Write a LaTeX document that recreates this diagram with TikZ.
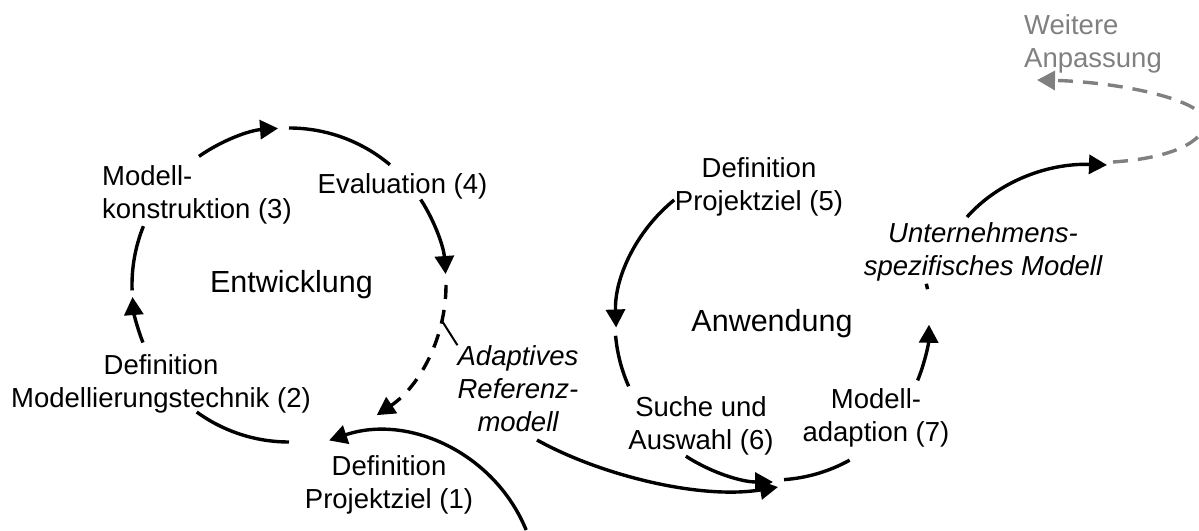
\documentclass[tikz,border=0pt]{standalone}
\usepackage{fontspec}
\setmainfont{Liberation Sans}
\usetikzlibrary{arrows.meta,calc}
\definecolor{loopgray}{RGB}{128,128,128}
\begin{document}
\begin{tikzpicture}[x=1pt,y=1pt,
  lbl/.style={font=\fontsize{27.5}{33}\selectfont, align=center, inner sep=0pt},
  ttl/.style={font=\fontsize{30.5}{36}\selectfont, inner sep=0pt},
  itlbl/.style={lbl, font=\fontsize{27.5}{33}\selectfont\itshape},
  flow/.style={line width=3.4pt, black},
  fine/.style={line width=2pt, black},
  tip/.style={-{Triangle[length=18pt,width=19pt]}},
  loop/.style={line width=3.4pt, loopgray, dash pattern=on 15pt off 10pt}]
\useasboundingbox (0,0) rectangle (1199,530);
\clip (0,0) rectangle (1199,530);

% labels
\node[lbl] (p1) at (389,45.5) {Definition\\Projektziel (1)};
\node[lbl] (p2) at (161,146.5) {Definition\\Modellierungstechnik (2)};
\node[lbl, align=left, anchor=west] (p3) at (102,335.5) {Modell-\\konstruktion (3)};
\node[lbl] (p4) at (402.5,344) {Evaluation (4)};
\node[ttl] (dev) at (291.5,245) {Entwicklung};
\node[itlbl] (ref) at (518,141.5) {Adaptives\\Referenz-\\modell};
\node[lbl] (p5) at (759,343.5) {Definition\\Projektziel (5)};
\node[ttl] (use) at (772,206) {Anwendung};
\node[lbl] (p6) at (701,104.5) {Suche und\\Auswahl (6)};
\node[lbl] (p7) at (876,112) {Modell-\\adaption (7)};
\node[itlbl] (ent) at (983,278.5) {Unternehmens-\\spezifisches Modell};
\node[lbl, text=loopgray, align=left, anchor=west] (more) at (1024,486.6) {Weitere\\Anpassung};

% cycle centres
\coordinate (LC) at (289,245);
\coordinate (RC) at (773,208);
\coordinate (BC) at (380,-60);

% development cycle
\path ($(LC)+(-90:157)$)   coordinate (l1)
      ($(LC)+(201.5:157)$) coordinate (l2)
      ($(LC)+(182:157)$)   coordinate (l3)
      ($(LC)+(125:157)$)   coordinate (l4)
      ($(LC)+(90:157)$)    coordinate (l5)
      ($(LC)+(33:157)$)    coordinate (l6)
      ($(LC)+(0:157)$)     coordinate (l7)
      ($(LC)+(-13.5:158)$) coordinate (lt);
\draw[flow] (l1) arc[start angle=-90, end angle=-126, radius=157];
\draw[flow, tip] (l2) arc[start angle=201.5, end angle=184.4, radius=157];
\draw[flow] (l3) arc[start angle=182, end angle=158, radius=157];
\draw[flow, tip] (l4) arc[start angle=125, end angle=94, radius=157];
\draw[flow] (l5) arc[start angle=90, end angle=50, radius=157];
\draw[flow, tip] (l6) arc[start angle=33, end angle=4, radius=157];
\draw[flow, tip, dash pattern=on 14pt off 11pt] (l7) arc[start angle=0, end angle=-56, radius=157];
\draw[fine] (lt) -- (ref.north west);

% feedback into project definition (1)
\path ($(BC)+(22.3:158)$) coordinate (b0);
\draw[flow, tip] (b0) arc[start angle=22.3, end angle=108.8, radius=158];

% reference model handed over to the application cycle
\coordinate (refout) at (537,90);
\coordinate (join) at (778,43);
\draw[flow, tip] (refout) .. controls (600,55) and (700,30) .. (join);

% application cycle
\path ($(RC)+(129:157)$) coordinate (r1)
      ($(RC)+(185:158)$) coordinate (r2)
      ($(RC)+(237:160)$) coordinate (r3)
      ($(RC)+(274:158)$) coordinate (r4)
      ($(RC)+(338:156)$) coordinate (r5)
      ($(RC)+(12:158)$)  coordinate (r6);
\draw[flow, tip] (r1) arc[start angle=129, end angle=182, radius=157];
\draw[flow] (r2) arc[start angle=185, end angle=204, radius=158];
\draw[flow, tip] (r3) arc[start angle=237, end angle=270, radius=160];
\draw[flow] (r4) arc[start angle=274, end angle=299, radius=158];
\draw[flow, tip] (r5) arc[start angle=338, end angle=359, radius=156];
\draw[flow] (r6) arc[start angle=12, end angle=14, radius=158];

% company-specific model leaving the cycle
\coordinate (entout) at (967,313);
\coordinate (entend) at (1107,365);
\draw[flow, tip] (entout) .. controls (1000,350) and (1050,367) .. (entend);

% further adaptation loop
\coordinate (lp0) at (1113,368);
\coordinate (lp1) at (1205,408);
\coordinate (lp2) at (1037,450);
\draw[loop, tip] (lp0) .. controls (1175,372) and (1205,390) .. (lp1)
                      .. controls (1205,430) and (1120,448) .. (lp2);
\end{tikzpicture}
\end{document}
